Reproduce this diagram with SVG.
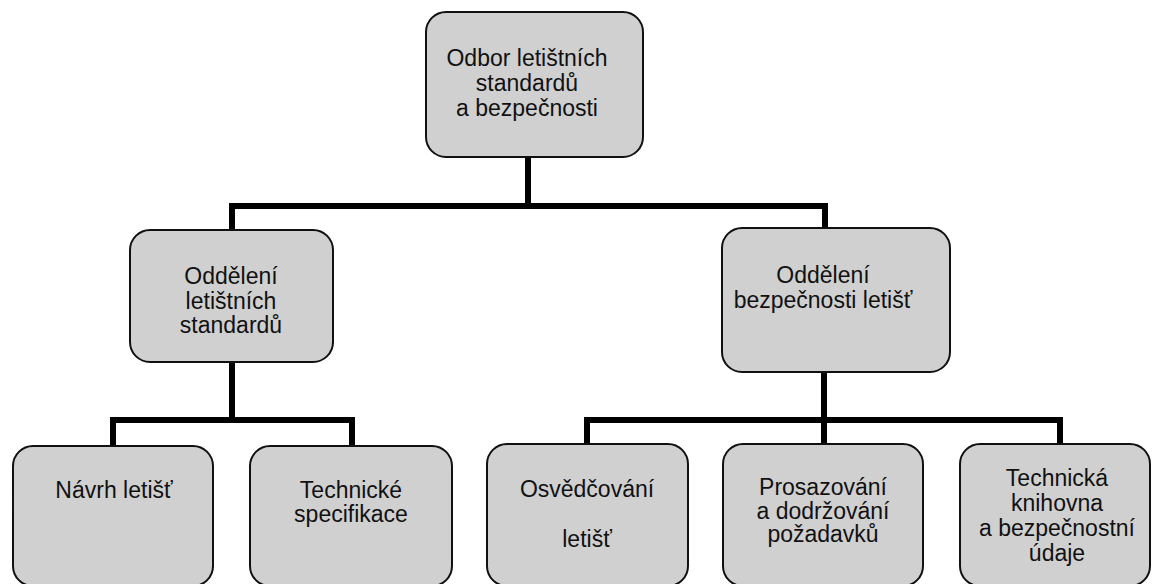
<svg xmlns="http://www.w3.org/2000/svg" width="1152" height="584" viewBox="0 0 1152 584">
<style>
.box{fill:#d0d0d0;stroke:#111;stroke-width:2}
.t{font-family:"Liberation Sans",Arial,sans-serif;font-size:23px;fill:#111;text-anchor:middle}
.c{fill:none;stroke:#000;stroke-width:6;stroke-linejoin:miter;stroke-linecap:butt}
</style>
<rect width="1152" height="584" fill="#fff"/>
<g id="connectors">
<path class="c" d="M528 157V206M232 230V206H825V228"/>
<path class="c" d="M232 362V420M113 446V420H352V446"/>
<path class="c" d="M824 372V444M587 444V420H1060V444"/>
</g>
<g id="n-root">
<rect class="box" x="426" y="12" width="217" height="145" rx="20"/>
<text class="t" x="527" y="66">Odbor letištních</text>
<text class="t" x="527" y="91">standardů</text>
<text class="t" x="527" y="116">a bezpečnosti</text>
</g>
<g id="n-standardy">
<rect class="box" x="130" y="230" width="203" height="132" rx="20"/>
<text class="t" x="231" y="284">Oddělení</text>
<text class="t" x="231" y="308.5">letištních</text>
<text class="t" x="231" y="333">standardů</text>
</g>
<g id="n-bezpecnost">
<rect class="box" x="722" y="228" width="228" height="144" rx="20"/>
<text class="t" x="823" y="283">Oddělení</text>
<text class="t" x="823" y="308">bezpečnosti letišť</text>
</g>
<g id="n-navrh">
<rect class="box" x="13" y="446" width="200" height="140" rx="20"/>
<text class="t" x="114" y="498">Návrh letišť</text>
</g>
<g id="n-specifikace">
<rect class="box" x="250" y="446" width="202" height="140" rx="20"/>
<text class="t" x="351" y="498">Technické</text>
<text class="t" x="351" y="522">specifikace</text>
</g>
<g id="n-osvedcovani">
<rect class="box" x="487" y="444" width="201" height="142" rx="20"/>
<text class="t" x="587" y="497">Osvědčování</text>
<text class="t" x="587" y="547">letišť</text>
</g>
<g id="n-prosazovani">
<rect class="box" x="723" y="444" width="200" height="142" rx="20"/>
<text class="t" x="823" y="495">Prosazování</text>
<text class="t" x="823" y="518.5">a dodržování</text>
<text class="t" x="823" y="542">požadavků</text>
</g>
<g id="n-knihovna">
<rect class="box" x="960" y="444" width="190" height="142" rx="20"/>
<text class="t" x="1057" y="486">Technická</text>
<text class="t" x="1057" y="511">knihovna</text>
<text class="t" x="1057" y="536">a bezpečnostní</text>
<text class="t" x="1057" y="561">údaje</text>
</g>
</svg>
